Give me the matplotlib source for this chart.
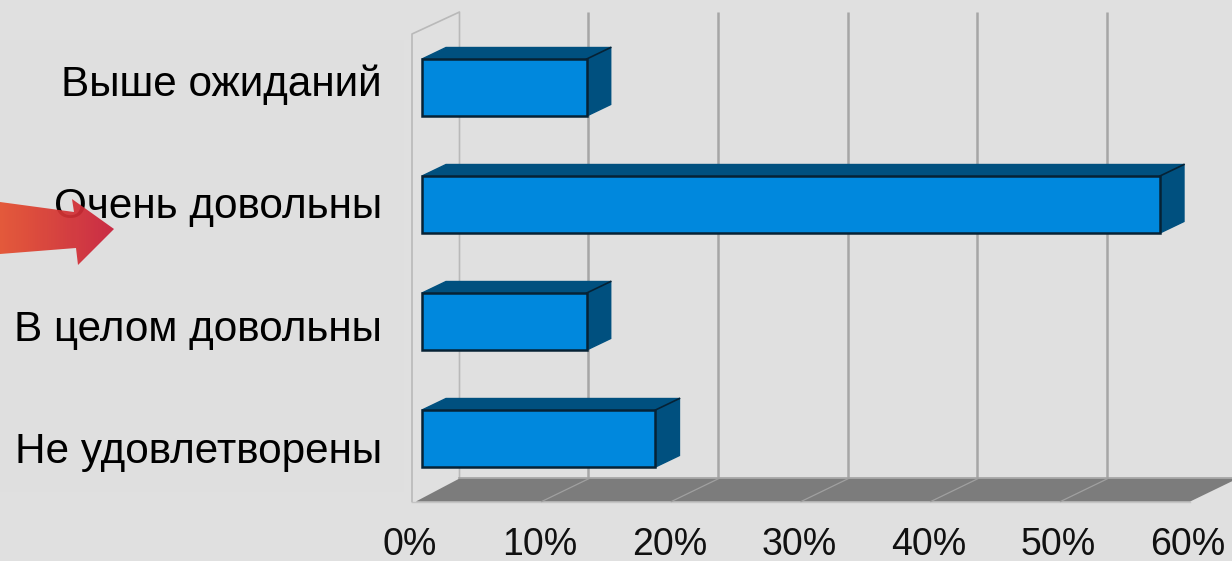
import numpy as np
import matplotlib
matplotlib.use("Agg")
import matplotlib.pyplot as plt
from matplotlib.colors import LinearSegmentedColormap
from matplotlib.patches import Polygon, Rectangle

categories = ["Выше ожиданий", "Очень довольны", "В целом довольны", "Не удовлетворены"]
values = [12.7, 56.9, 12.7, 18.0]
x_ticks = [0, 10, 20, 30, 40, 50, 60]
x_tick_labels = ["0%", "10%", "20%", "30%", "40%", "50%", "60%"]

W, H = 1232, 561
BG = "#e0e0e0"
PX_PER_PCT = 12.97
X0 = 412          # pixel of 0% on the front floor edge
PX_PER_CAT = 117
Y0 = 87.5         # pixel of first bar centre
FONT = "Liberation Sans"


def X(px):
    return (px - X0) / PX_PER_PCT


def Y(py):
    return (py - Y0) / PX_PER_CAT


fig = plt.figure(figsize=(W / 100, H / 100), dpi=100, facecolor=BG)
ax = fig.add_axes([0, 0, 1, 1])
ax.set_facecolor(BG)
ax.set_xlim(X(0), X(W))
ax.set_ylim(Y(H), Y(0))
ax.axis("off")

# faint panel behind the labels
ax.add_patch(Rectangle((X(0), Y(40)), X(404) - X(0), Y(492) - Y(40),
                       fc="#dfdfdf", ec="none", zorder=0))

DEPTH_X, DEPTH_Y = 47.5 / PX_PER_PCT, 23 / PX_PER_CAT
FLOOR = Y(501.5)
BACK = FLOOR - DEPTH_Y
TOP = Y(12)
grid = "#a6a6a6"

# side wall
ax.plot([0, 0, DEPTH_X, DEPTH_X], [FLOOR, Y(34), TOP, BACK], color="#b9b9b9", lw=1.2, zorder=1)

# back-wall grid lines
for t in x_ticks[1:-1]:
    ax.plot([t + DEPTH_X - 0.07] * 2, [TOP, BACK], color=grid, lw=1.8, zorder=1, solid_capstyle="butt")

# floor
ax.add_patch(Polygon([(0.3, FLOOR), (DEPTH_X, BACK), (60 + DEPTH_X, BACK), (60, FLOOR)],
                     closed=True, fc="#7c7c7c", ec="none", zorder=1))
ax.plot([0, 60], [FLOOR, FLOOR], color="#c4c4c4", lw=1.0, zorder=1)
ax.plot([DEPTH_X, 60 + DEPTH_X], [BACK, BACK], color="#a2a2a2", lw=1.2, zorder=1)
for t in x_ticks[1:-1]:
    ax.plot([t, t + DEPTH_X], [FLOOR, BACK], color="#a0a0a0", lw=0.9, zorder=2)

# bars
y_pos = np.arange(len(categories))
base = 10 / PX_PER_PCT
bar_h = 57 / PX_PER_CAT
bx, by = 24 / PX_PER_PCT, 11.5 / PX_PER_CAT
edge = "#062235"
dark = "#00507f"
ax.barh(y_pos, values, left=base, height=bar_h, color="#0088dd", edgecolor=edge, lw=1.8, zorder=4)
for y, v in zip(y_pos, values):
    r = base + v
    t, b = y - bar_h / 2, y + bar_h / 2
    ax.add_patch(Polygon([(base, t), (base + bx, t - by), (r + bx, t - by), (r, t)],
                         closed=True, fc=dark, ec=dark, lw=1, zorder=3))
    ax.add_patch(Polygon([(r, t), (r + bx, t - by), (r + bx, b - by), (r, b)],
                         closed=True, fc=dark, ec=dark, lw=1, zorder=3))
    ax.plot([r, r + bx], [t, t - by], color=edge, lw=1.2, zorder=5)

# category labels
baselines = [96, 218, 341, 463]
for name, py in zip(categories, baselines):
    ax.text(X(382), Y(py), name, ha="right", va="baseline", fontsize=30.4,
            family=FONT, color="black", zorder=6)

# value-axis labels
for t, lab in zip(x_ticks, x_tick_labels):
    ax.text(t - 2 / PX_PER_PCT, Y(555), lab, ha="center", va="baseline", fontsize=27,
            family=FONT, color="#111111", zorder=6)

# red arrow, drawn over the text
arrow_pts = [(0, 202), (74, 212), (72, 199), (114, 229), (78, 265), (76, 248), (0, 254)]
arrow = Polygon([(X(a), Y(b)) for a, b in arrow_pts], closed=True,
                transform=ax.transData, fc="none", ec="none")
ax.add_patch(arrow)
cmap = LinearSegmentedColormap.from_list("arrow", ["#e5502e", "#c81f3a"])
im = ax.imshow(np.linspace(0, 1, 256).reshape(1, -1), cmap=cmap, aspect="auto", alpha=0.93,
               extent=[X(0), X(114), Y(265), Y(199)], zorder=7)
im.set_clip_path(arrow)
ax.set_xlim(X(0), X(W))
ax.set_ylim(Y(H), Y(0))

fig.savefig("out.png", dpi=100, facecolor=BG)
